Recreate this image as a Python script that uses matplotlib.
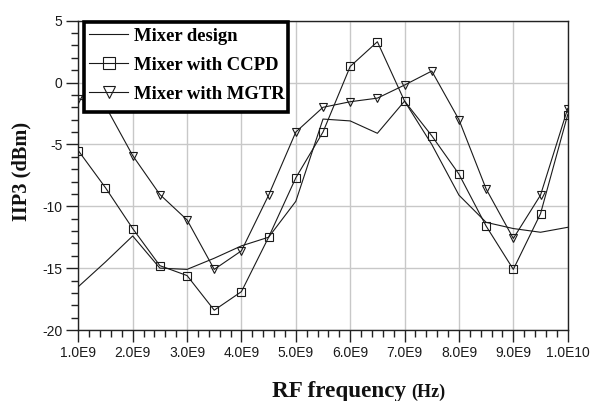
import matplotlib
matplotlib.use("Agg")
import matplotlib.pyplot as plt
from matplotlib.patches import Rectangle
from matplotlib.ticker import FixedLocator, MultipleLocator

# ---- data ----
freq_ghz = [1.0, 1.5, 2.0, 2.5, 3.0, 3.5, 4.0, 4.5, 5.0, 5.5,
            6.0, 6.5, 7.0, 7.5, 8.0, 8.5, 9.0, 9.5, 10.0]
mixer_design = [-16.5, -14.5, -12.4, -15.0, -15.1, -14.2, -13.2, -12.5, -9.6, -2.95,
                -3.1, -4.1, -1.5, -5.0, -9.1, -11.3, -11.8, -12.1, -11.7]
mixer_ccpd = [-5.5, -8.5, -11.8, -14.8, -15.6, -18.4, -16.9, -12.5, -7.7, -4.0,
              1.3, 3.3, -1.5, -4.3, -7.4, -11.6, -15.1, -10.6, -2.6]
mixer_mgtr = [-1.3, -1.9, -5.9, -9.05, -11.1, -15.1, -13.6, -9.1, -4.0, -2.0,
              -1.55, -1.26, -0.2, 0.93, -3.0, -8.6, -12.6, -9.1, -2.1]
series_labels = ["Mixer design", "Mixer with CCPD", "Mixer with MGTR"]
xtick_values = [1e9, 2e9, 3e9, 4e9, 5e9, 6e9, 7e9, 8e9, 9e9, 1e10]
xtick_labels = ["1.0E9", "2.0E9", "3.0E9", "4.0E9", "5.0E9",
                "6.0E9", "7.0E9", "8.0E9", "9.0E9", "1.0E10"]
ytick_values = [5, 0, -5, -10, -15, -20]

freq_hz = [f * 1e9 for f in freq_ghz]

W, H = 593, 401
fig = plt.figure(figsize=(W / 100, H / 100), dpi=100)
ax = fig.add_axes([78.3 / W, 1 - 330 / H, (567.7 - 78.3) / W, (330 - 20.7) / H])

lc = "#1a1a1a"
ax.plot(freq_hz, mixer_design, color=lc, lw=0.8, label=series_labels[0], zorder=3)
ax.plot(freq_hz, mixer_ccpd, color=lc, lw=0.8, marker="s", ms=5.5, mfc="none",
        mec=lc, mew=0.8, label=series_labels[1], zorder=3)
ax.plot(freq_hz, mixer_mgtr, color=lc, lw=0.8, marker="v", ms=5.5, mfc="none",
        mec=lc, mew=0.8, label=series_labels[2], zorder=3)

ax.set_xlim(1e9, 1e10)
ax.set_ylim(-20, 5)
ax.xaxis.set_major_locator(FixedLocator(xtick_values))
ax.set_xticklabels(xtick_labels)
ax.xaxis.set_minor_locator(MultipleLocator(0.2e9))
ax.yaxis.set_major_locator(FixedLocator(ytick_values))
ax.set_yticklabels([str(v) for v in ytick_values])
ax.yaxis.set_minor_locator(MultipleLocator(1))

ax.grid(True, which="major", color="#c8c8c8", lw=1.0, zorder=0)
ax.set_axisbelow(True)
for s in ax.spines.values():
    s.set_color("#222222")
    s.set_linewidth(1.0)

ax.tick_params(axis="both", which="major", direction="out", length=8.5, width=1.0,
               color="#222222", pad=3)
ax.tick_params(axis="both", which="minor", direction="out", length=5, width=1.0,
               color="#222222")
ax.tick_params(axis="y", which="both", right=False)
ax.tick_params(axis="x", which="both", top=False)
for lab in ax.get_xticklabels() + ax.get_yticklabels():
    lab.set_fontfamily("Liberation Sans")
    lab.set_fontsize(10)
    lab.set_color("#1a1a1a")

# legend frame (white box with thick black border)
frame = Rectangle((84 / W, 1 - 111.7 / H), 204 / W, 90 / H, transform=fig.transFigure,
                  facecolor="white", edgecolor="black", lw=2.6, zorder=9, clip_on=False)
ax.add_patch(frame)

leg = ax.legend(loc="upper left", bbox_to_anchor=(89 / W, 1 - 27.5 / H),
                bbox_transform=fig.transFigure, frameon=False,
                prop={"family": "Liberation Serif", "weight": "bold", "size": 13.4},
                handlelength=2.1, handletextpad=0.3, borderpad=0,
                labelspacing=0.65, borderaxespad=0, markerscale=1.5,
                numpoints=1)
leg.set_zorder(10)

fig.text(21.7 / W, 1 - 171.7 / H, "IIP3 (dBm)", rotation=90, ha="center", va="center",
         family="Liberation Serif", weight="bold", fontsize=14.7, color="#111111")
fig.text(271.7 / W, 1 - 396.7 / H, "RF frequency", ha="left", va="baseline",
         family="Liberation Serif", weight="bold", fontsize=16.7, color="#111111")
fig.text(411.7 / W, 1 - 396.7 / H, "(Hz)", ha="left", va="baseline",
         family="Liberation Serif", weight="bold", fontsize=13, color="#111111")

fig.savefig("out.png", dpi=100)
